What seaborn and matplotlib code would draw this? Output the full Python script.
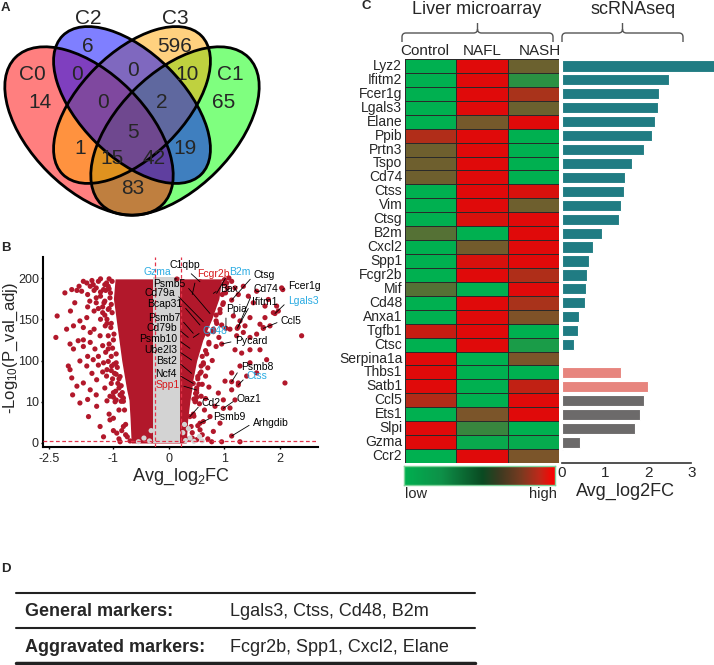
import numpy as np
import pandas as pd
import matplotlib
matplotlib.use('Agg')
import matplotlib.pyplot as plt
import seaborn as sns
from matplotlib.patches import Ellipse, PathPatch
from matplotlib.path import Path
from matplotlib.colors import LinearSegmentedColormap

# ---------------- DATA ----------------
# Panel A : Venn
venn_sets = ['C0', 'C1', 'C2', 'C3']
venn_regions = ['C0', 'C2', 'C3', 'C1', 'C0&C2', 'C2&C3', 'C1&C3', 'C0&C2&C3',
                'C1&C2&C3', 'all', 'C0&C3', 'C1&C2', 'C0&C1&C3', 'C0&C1&C2', 'C0&C1']
venn_counts = [14, 6, 596, 65, 0, 0, 10, 0, 2, 5, 1, 19, 15, 42, 83]

# Panel B : volcano (Avg_log2FC, -log10 p_adj)
red_fc = [1.04, 1.13, 1.19, 1.25, 1.34, 1.43, 1.52, 1.58, 1.73, 1.79, 1.94, 1.97, 2.03, 1.88,
          1.73, 1.64, 1.46, 1.37, 1.28, 1.16, 1.10, 1.22, 1.34, 1.46, 1.58, 1.70, 1.82, 2.39,
          2.09, 1.19, 1.31, 1.46, 1.64, 1.76, 1.46, 1.28, 1.13, 1.40, 1.58, 1.25, 1.01, 1.13,
          0.89, 0.98, 1.19, 1.10, 0.83, 0.74, 0.92, 0.62, 0.56, 0.80, 0.95, 0.77, 1.28,
          1.00, 1.02, 0.97, 0.92, 0.85, 0.95, 0.80, 0.90, 0.72, 0.85, 0.68, 0.78, 0.62, 0.70,
          0.58, 0.66, 0.52, 0.60, 0.72, 0.50, 0.58, 0.66, 0.48, 0.55, 0.64, 0.45, 0.52, 0.60,
          0.42, 0.50, 0.70,
          -2.13, -1.97, -1.85, -1.74, -1.62, -1.54, -1.47, -1.35, -1.23, -1.16, -2.31, -2.34,
          -2.09, -1.93, -1.78, -1.70, -1.62, -1.54, -2.01, -1.93, -1.82, -1.70, -1.54, -1.43,
          -1.31, -1.19, -1.12, -2.05, -2.01, -1.97, -1.78, -1.62, -1.47, -1.35, -1.23, -1.85,
          -1.70, -1.54, -1.39, -1.16, -1.78, -1.58, -1.39, -1.31, -1.08, -1.23, -0.94, -0.88,
          -1.08, -1.12, -1.04,
          -1.10, -1.30, -1.40, -1.25, -1.20, -1.08, -1.15, -1.05, -1.30, -1.12, -1.00, -1.25,
          -1.05, -0.95, -1.15, -0.98, -0.90, -1.05, -0.90, -1.00, -0.85, -0.95, -0.82, -0.90,
          -1.00, -0.78, -0.85, -0.75, -0.70, -1.40, -1.45, -1.60, -1.90, -2.00, -1.70, -1.45,
          -1.60, -1.35, -1.50, -1.25, -1.20, -1.40, -1.60, -1.15, -1.95,
          -1.30, -1.50, -1.20, -1.45, -1.60, -1.10, -1.30, -1.80, -1.70, -1.40, -1.55, -1.25,
          -1.35, -1.05]
red_lp = [194, 196, 188, 180, 190, 178, 170, 184, 166, 174, 166, 160, 188, 158,
          152, 144, 152, 142, 148, 154, 138, 130, 134, 128, 132, 140, 142, 130,
          51, 113, 109, 113, 113, 101, 95, 88, 73, 66, 73, 51, 55, 36,
          29, 14, 14, 8.5, 8.9, 6.4, 4.8, 5.2, 3.2, 2.8, 0.3, 0.3, 0.3,
          198, 182, 168, 158, 148, 143, 135, 128, 122, 117, 108, 100, 92, 84,
          75, 66, 60, 48, 42, 30, 22, 17, 12, 9.5, 8, 6.5, 4.2, 2,
          1.2, 0.8, 1.0,
          182, 186, 185, 184, 194, 190, 192, 196, 186, 194, 154, 128,
          138, 142, 148, 140, 152, 134, 120, 114, 124, 117, 122, 114,
          130, 142, 162, 88, 80, 62, 99, 88, 101, 105, 95, 44,
          51, 36, 58, 66, 9.7, 6.4, 8.9, 4.0, 5.6, 1.5, 2.4, 0.3,
          22, 114, 88,
          199, 178, 170, 165, 172, 176, 150, 145, 150, 130, 125, 118,
          105, 95, 80, 72, 60, 50, 40, 30, 22, 14, 11, 8,
          6, 4.5, 3, 1.5, 0.5, 188, 160, 165, 170, 160, 125, 138,
          105, 90, 72, 75, 40, 25, 15, 12, 25,
          199, 197, 192, 185, 180, 187, 183, 190, 196, 176, 172, 158,
          163, 168]
# genes lying just outside the dense core (ragged edge)
edge_fc = [-0.78, -0.82, -0.80, -0.86, -0.82, -0.88, -0.84, -0.86, -0.92, -0.88, -0.95, -0.93,
           -0.99, -0.95, -1.02, -0.99, -1.06, -1.03, -1.10, -1.07, -1.12, -1.03, -1.18, -1.22,
           -1.20, -1.15, -1.10, -1.18, -1.12, -1.05, -1.02, -0.96, -1.00, -0.97, -1.10, -1.00,
           -0.90,
           0.36, 0.42, 0.40, 0.44, 0.47, 0.45, 0.50, 0.48, 0.50, 0.54, 0.52, 0.56, 0.58, 0.62,
           0.60, 0.66, 0.72, 0.70, 0.80, 0.86, 0.85, 0.92, 0.98, 0.96, 1.05, 0.99, 1.08]
edge_lp = [2, 4, 8, 11, 18, 25, 30, 45, 50, 65, 70, 85,
           92, 108, 115, 132, 140, 158, 163, 182, 190, 196, 185, 170,
           155, 145, 120, 110, 98, 78, 60, 33, 20, 10, 7, 3,
           1,
           1, 2.5, 4, 7, 10, 16, 20, 28, 40, 48, 65, 72, 88, 95,
           105, 112, 120, 132, 138, 145, 155, 162, 170, 180, 188, 193, 200]
grey_fc = [0.30, 0.38, 0.45, 0.55, 0.60, -0.35, -0.45, -0.55, 0.25, 0.35, -0.32, 0.28]
grey_lp = [0.6, 1.2, 0.4, 1.6, 0.5, 0.5, 1.2, 0.3, 2.5, 3.5, 3.0, 4.5]
# envelope of the dense (overplotted) core of significant genes
core_lp = [0, 6, 14, 36, 57, 100, 125, 150, 175, 199]
core_lo = [-0.68, -0.70, -0.72, -0.76, -0.79, -0.85, -0.90, -0.95, -1.00, -0.97]
core_hi = [0.31, 0.34, 0.38, 0.41, 0.43, 0.50, 0.61, 0.77, 0.90, 0.95]
ns_band = [-0.28, 0.20]
ns_top = 201
fc_cut = [-0.25, 0.21]
p_cut = 0.4

genes_lab = ['Psmb5', 'Cd79a', 'Bcap31', 'Psmb7', 'Cd79b', 'Psmb10', 'Ube2l3', 'Bst2', 'Ncf4',
             'Spp1', 'Gzma', 'C1qbp', 'Fcgr2b', 'B2m', 'Ctsg', 'Bax', 'Cd74', 'Fcer1g', 'Ifitm1',
             'Lgals3', 'Ppia', 'Cd48', 'Ccl5', 'Pycard', 'Psmb8', 'Ctss', 'Cd2', 'Oaz1', 'Psmb9',
             'Arhgdib']
genes_fc = [0.739, 0.619, 0.559, 0.438, 0.348, 0.378, 0.408, 0.408, 0.438, 0.498, 0.144, 0.559,
            0.42, 0.859, 1.13, 0.80, 1.249, 2.05, 1.231, 1.91, 1.027, 0.438, 1.70, 0.95, 1.13,
            1.249, 0.378, 0.98, 0.559, 1.13]
genes_lp = [157, 147, 143, 133, 128, 114.8, 100.6, 72, 50, 35.6, 198.8, 195.5, 180, 181.4, 173.3,
            181.4, 141, 186, 139, 157, 139, 128, 139, 120, 53.7, 46.5, 6.4, 8.4, 4.8, 1.7]
genes_kind = ['k', 'k', 'k', 'k', 'k', 'k', 'k', 'k', 'k', 'r', 'b', 'k', 'r', 'b', 'k', 'k', 'k',
              'k', 'k', 'b', 'k', 'b', 'k', 'k', 'k', 'b', 'k', 'k', 'k', 'k']
# label placement (layout)
lab_x = [0.288, 0.108, 0.234, 0.198, 0.144, 0.144, 0.144, 0.144, 0.144, 0.198, -0.216, 0.288,
         0.505, 1.081, 1.532, 0.919, 1.532, 2.144, 1.495, 2.144, 1.027, 0.613, 2.018, 1.189,
         1.297, 1.405, 0.595, 1.225, 0.793, 1.514]
lab_y = [192.7, 181.8, 168.5, 151.5, 139.4, 126, 112.7, 98.9, 70.6, 46.5, 207, 215.8, 204.8,
         207, 203.6, 186.7, 186.7, 190.3, 170.9, 172, 162.4, 135.8, 147.9, 123.6, 85.8, 66.2,
         9.7, 16, 6.3, 4.85]
lab_ha = ['right'] * 10 + ['center', 'center'] + ['left'] * 18

# Panel C : heatmap + bars
genes = ['Lyz2', 'Ifitm2', 'Fcer1g', 'Lgals3', 'Elane', 'Ppib', 'Prtn3', 'Tspo', 'Cd74', 'Ctss',
         'Vim', 'Ctsg', 'B2m', 'Cxcl2', 'Spp1', 'Fcgr2b', 'Mif', 'Cd48', 'Anxa1', 'Tgfb1', 'Ctsc',
         'Serpina1a', 'Thbs1', 'Satb1', 'Ccl5', 'Ets1', 'Slpi', 'Gzma', 'Ccr2']
control = [0, 0, 0, 0, 0, 0.79, 0.49, 0.49, 0.49, 0, 0, 0, 0.38, 0, 0, 0, 0.38, 0, 0, 0.89, 0,
           1, 1, 1, 0.80, 0, 1, 1, 0]
nafl = [1, 1, 1, 1, 0.52, 1, 1, 1, 1, 1, 1, 0.96, 0, 0.51, 0.96, 1, 0, 1, 1, 1, 1,
        0, 0, 0, 0, 0.55, 0.25, 0.04, 1]
nash = [0.48, 0.19, 0.75, 0.48, 1, 0, 0, 0, 0, 0.96, 0.49, 1, 1, 1, 1, 0.78, 1, 0.75, 0.57, 0,
        0.12, 0.55, 0, 0.86, 1, 1, 0, 0.03, 0.55]
conditions = ['Control', 'NAFL', 'NASH']
sc_fc = [3.55, 2.47, 2.24, 2.22, 2.16, 2.10, 1.91, 1.62, 1.47, 1.44, 1.37, 1.32, 0.94, 0.72,
         0.63, 0.59, 0.56, 0.54, 0.40, 0.39, 0.30, 0.0, 1.37, 1.99, 1.91, 1.81, 1.70, 0.43, 0.04]
sc_group = ['a'] * 22 + ['b', 'b'] + ['c'] * 5
bar_ticks = [0, 1, 2, 3]

# Panel D
table_rows = ['General markers:', 'Aggravated markers:']
table_vals = ['Lgals3, Ctss, Cd48, B2m', 'Fcgr2b, Spp1, Cxcl2, Elane']

# ---------------- STYLE ----------------
sns.set_theme(style='white')
plt.rcParams['font.family'] = ['Liberation Sans', 'DejaVu Sans']
plt.rcParams['mathtext.fontset'] = 'custom'
plt.rcParams['mathtext.rm'] = 'Liberation Sans'
plt.rcParams['mathtext.it'] = 'Liberation Sans:italic'
plt.rcParams['mathtext.bf'] = 'Liberation Sans:bold'

W, H = 714, 665
fig = plt.figure(figsize=(W / 100, H / 100), dpi=100)
fig.patch.set_facecolor('white')


def box(x0, y0, x1, y1):
    return [x0 / W, 1 - y1 / H, (x1 - x0) / W, (y1 - y0) / H]


# ---------------- A : Venn ----------------
axv = fig.add_axes(box(0, 10, 270, 220))
axv.set_xlim(0, 270)
axv.set_ylim(220, 10)
axv.axis('off')
ell = {'C0': ((89, 131), 45, 208, 116), 'C1': ((175, 131), 135, 208, 116),
       'C2': ((132, 105), 45, 196, 104), 'C3': ((132, 105), 135, 196, 104)}
ecol = {'C0': '#FF0000', 'C1': '#00FF00', 'C2': '#0000FF', 'C3': '#FFA500'}
for s in ['C1', 'C0', 'C3', 'C2']:
    (cx, cy), ang, w, h = ell[s]
    axv.add_patch(Ellipse((cx, cy), w, h, angle=ang, facecolor=ecol[s], alpha=0.5,
                          edgecolor='none'))
for s in venn_sets:
    (cx, cy), ang, w, h = ell[s]
    axv.add_patch(Ellipse((cx, cy), w, h, angle=ang, facecolor='none',
                          edgecolor='black', lw=2))
set_lab_pos = {'C0': (32, 75), 'C1': (230, 75), 'C2': (88, 18), 'C3': (175, 18)}
for s in venn_sets:
    axv.text(*set_lab_pos[s], s, fontsize=15, ha='center', va='center')
region_pos = [(40, 102), (88, 47), (175, 47), (224, 102), (77, 75), (133, 70), (187, 75),
              (103, 102), (162, 102), (133, 133), (80, 148), (185, 148), (112, 159),
              (154, 159), (133, 188)]
for (px, py), n in zip(region_pos, venn_counts):
    axv.text(px, py, str(n), fontsize=15, ha='center', va='center')

# ---------------- B : volcano ----------------
axb = fig.add_axes(box(43, 257, 318, 447))
yk_d = [-50, 0, 10, 100, 150, 200, 400]
yk_m = [-5, 0, 1, 2, 3, 4, 8]
xk_d = [-5, -2.5, -1, 5]
xk_m = [-4.09, -2.16, -1, 5]
axb.set_yscale('function', functions=(lambda v: np.interp(v, yk_d, yk_m),
                                      lambda m: np.interp(m, yk_m, yk_d)))
axb.set_xscale('function', functions=(lambda v: np.interp(v, xk_d, xk_m),
                                      lambda m: np.interp(m, xk_m, xk_d)))
RED = '#B2182B'
axb.fill_betweenx(core_lp, core_lo, core_hi, color=RED, lw=0, zorder=1)
axb.fill_betweenx([0, ns_top], ns_band[0], ns_band[1], color='#D3D3D3', lw=0, zorder=1.5)
sns.scatterplot(x=red_fc, y=red_lp, ax=axb, s=14, color=RED, edgecolor='none', zorder=2)
sns.scatterplot(x=edge_fc, y=edge_lp, ax=axb, s=14, color=RED, edgecolor='none', zorder=2)
sns.scatterplot(x=grey_fc, y=grey_lp, ax=axb, s=14, color='#D3D3D3', edgecolor='none', zorder=2)
sns.scatterplot(x=genes_fc, y=genes_lp, ax=axb, s=14, color=RED, edgecolor='none', zorder=2)
for v in fc_cut:
    axb.axvline(v, color='#E3344A', lw=0.9, ls=(0, (3, 2)), zorder=3)
axb.axhline(p_cut, color='#E3344A', lw=0.9, ls=(0, (3, 2)), zorder=3)
kcol = {'k': 'black', 'r': '#D7191C', 'b': '#29ABE2'}
for g, fx, fy, k, tx, ty, ha in zip(genes_lab, genes_fc, genes_lp, genes_kind, lab_x, lab_y, lab_ha):
    rel = {'right': (1, 0.5), 'left': (0, 0.5), 'center': (0.5, 0.2)}[ha]
    axb.annotate(g, xy=(fx, fy), xytext=(tx, ty), fontsize=7.5, color=kcol[k], ha=ha,
                 va='center', zorder=4,
                 arrowprops=dict(arrowstyle='-', color='black', lw=0.6, shrinkA=0.5, shrinkB=0,
                                 relpos=rel))
axb.set_xlim(-2.64, 2.685)
axb.set_ylim(-0.97, 225.5)
axb.set_xticks([-2.5, -1, 0, 1, 2], ['-2.5', '-1', '0', '1', '2'])
axb.set_yticks([0, 10, 100, 150, 200], ['0', '10', '100', '150', '200'])
axb.minorticks_off()
axb.tick_params(labelsize=9, length=1.5, width=1, pad=1.5, direction='out', color='black',
                bottom=True, left=True)
axb.tick_params(axis='x', pad=3)
for sp in ['top', 'right']:
    axb.spines[sp].set_visible(False)
for sp in ['left', 'bottom']:
    axb.spines[sp].set_color('black')
    axb.spines[sp].set_linewidth(1.5)
axb.set_xlabel(r'Avg_log$_{\mathregular{2}}$FC', fontsize=13, labelpad=1)
axb.set_ylabel(r'-Log$_{\mathregular{10}}$(P_val_adj)', fontsize=12)
axb.yaxis.set_label_coords(-0.085, 0.52)
axb.grid(False)

# ---------------- C : heatmap ----------------
cell_cmap = LinearSegmentedColormap.from_list('gr', ['#00B050', '#E00A0A'])
hm = pd.DataFrame({'Control': control, 'NAFL': nafl, 'NASH': nash}, index=genes)
axh = fig.add_axes(box(405, 59, 559, 463))
sns.heatmap(hm, ax=axh, cmap=cell_cmap, vmin=0, vmax=1, cbar=False, linewidths=0.6,
            linecolor='#2a2a2a', xticklabels=True, yticklabels=True)
axh.xaxis.tick_top()
axh.set_xticks([0.38, 1.5, 2.62], conditions, rotation=0, fontsize=11)
axh.set_yticks(np.arange(len(genes)) + 0.5, genes, rotation=0, fontsize=10)
axh.tick_params(axis='x', length=0, pad=1)
axh.tick_params(axis='y', length=0, pad=2)
axh.set_xlabel('')
axh.set_ylabel('')

# bars
bar_df = pd.DataFrame({'gene': genes, 'fc': sc_fc, 'group': sc_group})
axr = fig.add_axes(box(561.5, 59, 714, 463))
sns.barplot(data=bar_df, x='fc', y='gene', hue='group', order=genes, dodge=False,
            palette={'a': '#0F8A93', 'b': '#F8766D', 'c': '#6D6969'}, orient='h', width=0.8,
            edgecolor='white', linewidth=0.8, legend=False, ax=axr)
axr.set_xlim(0, 3.52)
axr.set_ylim(len(genes) - 0.5, -0.5)
axr.set_yticks([])
axr.set_ylabel('')
for sp in ['top', 'right', 'left']:
    axr.spines[sp].set_visible(False)
axr.spines['bottom'].set_bounds(0, 3)
axr.spines['bottom'].set_color('#333333')
axr.spines['bottom'].set_linewidth(1.2)
axr.set_xticks(bar_ticks, [str(t) for t in bar_ticks])
axr.tick_params(axis='x', labelsize=11, length=0, pad=2)
axr.set_xlabel('Avg_log2FC', fontsize=13)
axr.xaxis.set_label_coords((625 - 561.5) / 152.5, -0.05)
axr.patch.set_alpha(0)

# colour key
key_cmap = LinearSegmentedColormap.from_list(
    'key', [(0, '#00B050'), (0.25, '#0E9048'), (0.52, '#0A4A22'), (0.63, '#3A3A20'),
            (0.78, '#7A3A20'), (0.9, '#C0281A'), (1, '#FF0000')])
axk = fig.add_axes(box(404, 466, 555, 485))
axk.imshow(np.linspace(0, 1, 256)[None, :], aspect='auto', cmap=key_cmap)
axk.set_xticks([])
axk.set_yticks([])
for sp in axk.spines.values():
    sp.set_color('#7FD39A')
    sp.set_linewidth(1)

# ---------------- overlay: titles, braces, table ----------------
ov = fig.add_axes([0, 0, 1, 1])
ov.set_xlim(0, W)
ov.set_ylim(H, 0)
ov.axis('off')
ov.patch.set_alpha(0)

for lab, (x, y) in zip('ABCD', [(1, 2), (1, 242), (361, 0), (1, 563)]):
    ov.text(x, y, lab, fontsize=9.5, fontweight='bold', ha='left', va='top')

ov.text(477, 10, 'Liver microarray', fontsize=13, ha='center', va='center')
ov.text(633, 10, 'scRNAseq', fontsize=13, ha='center', va='center')


def brace(x0, x1, yb, yh, yp, r=4):
    xc = (x0 + x1) / 2
    M, L, C = Path.MOVETO, Path.LINETO, Path.CURVE3
    verts = [(x0, yb), (x0, yh + r), (x0, yh), (x0 + r, yh), (xc - r, yh), (xc, yh), (xc, yh - r),
             (xc, yp), (xc, yh - r), (xc, yh), (xc + r, yh), (x1 - r, yh), (x1, yh), (x1, yh + r),
             (x1, yb)]
    codes = [M, L, C, C, L, C, C, L, M, C, C, L, C, C, L]
    ov.add_patch(PathPatch(Path(verts, codes), facecolor='none', edgecolor='#555555', lw=1))


brace(402, 553, 42, 33, 23)
brace(562, 683, 42, 33, 23)

ov.text(405, 494, 'low', fontsize=10.5, ha='left', va='center')
ov.text(557, 494, 'high', fontsize=10.5, ha='right', va='center')

ov.plot([16, 475], [593, 593], color='#222222', lw=1.5)
ov.plot([16, 475], [628, 628], color='#222222', lw=1.5)
ov.plot([16, 475], [663, 663], color='#222222', lw=2.5)
for i, (rl, rv) in enumerate(zip(table_rows, table_vals)):
    y = 612 + i * 36
    ov.text(25, y, rl, fontsize=13, fontweight='bold', ha='left', va='center')
    ov.text(230, y, rv, fontsize=13, ha='left', va='center')

fig.savefig('out.png', dpi=100, facecolor='white')
